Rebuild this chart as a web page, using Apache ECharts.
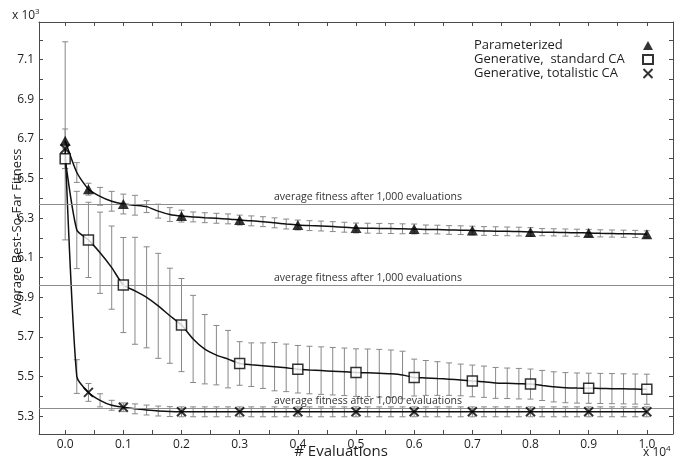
<!DOCTYPE html>
<html>
<head>
<meta charset="utf-8">
<script src="https://cdn.jsdelivr.net/npm/echarts@6/dist/echarts.min.js"></script>
<style>
  html, body { margin: 0; padding: 0; background: #fff; }
  #chart { width: 686px; height: 460px; }
</style>
</head>
<body>
<div id="chart"></div>
<script>
// # evaluations, in units of 10^4 (one point every 200 evaluations)
var evals = [0.00, 0.02, 0.04, 0.06, 0.08, 0.10, 0.12, 0.14, 0.16, 0.18,
  0.20, 0.22, 0.24, 0.26, 0.28, 0.30, 0.32, 0.34, 0.36, 0.38,
  0.40, 0.42, 0.44, 0.46, 0.48, 0.50, 0.52, 0.54, 0.56, 0.58,
  0.60, 0.62, 0.64, 0.66, 0.68, 0.70, 0.72, 0.74, 0.76, 0.78,
  0.80, 0.82, 0.84, 0.86, 0.88, 0.90, 0.92, 0.94, 0.96, 0.98, 1.00];

// average best-so-far fitness (x 10^3) and error half widths
var paramMean = [6.69, 6.53, 6.446, 6.41, 6.385, 6.371, 6.365, 6.358, 6.335, 6.318,
  6.31, 6.306, 6.302, 6.299, 6.296, 6.29, 6.286, 6.282, 6.276, 6.27,
  6.265, 6.262, 6.26, 6.257, 6.254, 6.25, 6.249, 6.248, 6.247, 6.246,
  6.245, 6.243, 6.242, 6.24, 6.239, 6.237, 6.235, 6.234, 6.233, 6.232,
  6.23, 6.229, 6.228, 6.227, 6.226, 6.225, 6.223, 6.222, 6.221, 6.22, 6.218];
var paramErr = [0.5, 0.05, 0.03, 0.045, 0.05, 0.05, 0.05, 0.03, 0.035, 0.035,
  0.03, 0.025, 0.025, 0.025, 0.025, 0.025, 0.025, 0.025, 0.025, 0.025,
  0.025, 0.025, 0.025, 0.025, 0.025, 0.025, 0.025, 0.025, 0.025, 0.025,
  0.025, 0.022, 0.022, 0.022, 0.022, 0.022, 0.022, 0.022, 0.022, 0.022,
  0.022, 0.018, 0.018, 0.018, 0.018, 0.018, 0.018, 0.018, 0.018, 0.018, 0.018];

var stdMean = [6.60, 6.24, 6.19, 6.125, 6.05, 5.962, 5.933, 5.90, 5.857, 5.807,
  5.76, 5.69, 5.638, 5.608, 5.588, 5.566, 5.56, 5.555, 5.55, 5.544,
  5.537, 5.533, 5.53, 5.527, 5.524, 5.52, 5.519, 5.517, 5.514, 5.508,
  5.495, 5.493, 5.49, 5.487, 5.483, 5.478, 5.474, 5.468, 5.466, 5.464,
  5.462, 5.455, 5.448, 5.444, 5.442, 5.441, 5.44, 5.439, 5.438, 5.437, 5.436];
var stdErr = [0.05, 0.195, 0.19, 0.205, 0.21, 0.24, 0.27, 0.255, 0.265, 0.24,
  0.235, 0.22, 0.175, 0.15, 0.145, 0.11, 0.11, 0.115, 0.122, 0.12,
  0.12, 0.12, 0.12, 0.12, 0.12, 0.12, 0.12, 0.12, 0.12, 0.12,
  0.093, 0.088, 0.085, 0.082, 0.08, 0.08, 0.079, 0.078, 0.077, 0.077,
  0.076, 0.076, 0.076, 0.076, 0.076, 0.076, 0.076, 0.076, 0.076, 0.076, 0.076];

var totMean = [6.65, 5.50, 5.42, 5.38, 5.355, 5.345, 5.337, 5.331, 5.326, 5.323,
  5.322, 5.322, 5.322, 5.322, 5.322, 5.322, 5.322, 5.322, 5.322, 5.322,
  5.322, 5.322, 5.322, 5.322, 5.322, 5.322, 5.322, 5.322, 5.322, 5.322,
  5.322, 5.322, 5.322, 5.322, 5.322, 5.322, 5.322, 5.322, 5.322, 5.322,
  5.322, 5.322, 5.322, 5.322, 5.322, 5.322, 5.322, 5.322, 5.322, 5.322, 5.322];
var totErr = [0.1, 0.085, 0.045, 0.033, 0.025, 0.022, 0.025, 0.025, 0.025, 0.025,
  0.025, 0.025, 0.025, 0.025, 0.025, 0.025, 0.025, 0.025, 0.025, 0.025,
  0.025, 0.025, 0.025, 0.025, 0.025, 0.025, 0.025, 0.025, 0.025, 0.025,
  0.025, 0.025, 0.025, 0.025, 0.025, 0.025, 0.025, 0.025, 0.025, 0.025,
  0.025, 0.025, 0.025, 0.025, 0.025, 0.025, 0.025, 0.025, 0.025, 0.025, 0.025];

// points that carry a marker
var markerIdx = [0, 2, 5, 10, 15, 20, 25, 30, 35, 40, 45, 50];
var refIdx = 5; // 0.1 x 10^4 = 1,000 evaluations

var xTicks = [0, 0.05, 0.1, 0.15, 0.2, 0.25, 0.3, 0.35, 0.4, 0.45, 0.5, 0.55, 0.6, 0.65, 0.7, 0.75, 0.8, 0.85, 0.9, 0.95, 1.0];
var xLabels = [0, 0.1, 0.2, 0.3, 0.4, 0.5, 0.6, 0.7, 0.8, 0.9, 1.0];
var yTicks = [5.3, 5.4, 5.5, 5.6, 5.7, 5.8, 5.9, 6.0, 6.1, 6.2, 6.3, 6.4, 6.5, 6.6, 6.7, 6.8, 6.9, 7.0, 7.1, 7.2];
var yLabels = [5.3, 5.5, 5.7, 5.9, 6.1, 6.3, 6.5, 6.7, 6.9, 7.1];

var names = ['Parameterized', 'Generative,  standard CA', 'Generative, totalistic CA'];
var refText = 'average fitness after 1,000 evaluations';

var font = 'Open Sans';
var ink = '#1e1e1e';
var frame = '#4a4a4a';

function pairs(mean) {
  return evals.map(function (x, i) { return [x, mean[i]]; });
}
function bars(mean, err) {
  return evals.map(function (x, i) { return [x, mean[i] - err[i], mean[i] + err[i]]; });
}
function marks(mean) {
  return markerIdx.map(function (i) { return [evals[i], mean[i]]; });
}

function renderBar(params, api) {
  var x = api.value(0);
  var lo = api.coord([x, api.value(1)]);
  var hi = api.coord([x, api.value(2)]);
  var w = 3;
  var st = { stroke: '#888', lineWidth: 1 };
  return {
    type: 'group',
    children: [
      { type: 'line', shape: { x1: lo[0], y1: lo[1], x2: hi[0], y2: hi[1] }, style: st },
      { type: 'line', shape: { x1: lo[0] - w, y1: lo[1], x2: lo[0] + w, y2: lo[1] }, style: st },
      { type: 'line', shape: { x1: hi[0] - w, y1: hi[1], x2: hi[0] + w, y2: hi[1] }, style: st }
    ]
  };
}

function barSeries(mean, err) {
  return {
    type: 'custom', silent: true, z: 1,
    data: bars(mean, err),
    encode: { x: 0, y: [1, 2] },
    renderItem: renderBar
  };
}

function lineSeries(mean) {
  return {
    type: 'line', silent: true, z: 3,
    data: pairs(mean),
    showSymbol: false, symbol: 'none',
    smooth: 0.2,
    lineStyle: { color: '#111', width: 1.5 },
    markLine: {
      silent: true, symbol: 'none',
      lineStyle: { color: '#8c8c8c', width: 1.2, type: 'solid' },
      label: { position: 'insideMiddleTop', formatter: refText, color: '#333', fontSize: 10.5, fontFamily: font,
        distance: 2, padding: [0, 0, 0, 24] },
      data: [{ yAxis: mean[refIdx] }]
    }
  };
}

var chart = echarts.init(document.getElementById('chart'));

var xBase = {
  type: 'value', min: -0.045, max: 1.045,
  axisLine: { show: true, onZero: false, lineStyle: { color: frame, width: 1 } },
  axisTick: { show: true, inside: true, length: 4, customValues: xTicks, lineStyle: { color: frame } },
  splitLine: { show: false }
};
var yBase = {
  type: 'value', min: 5.21, max: 7.29,
  axisLine: { show: true, onZero: false, lineStyle: { color: frame, width: 1 } },
  axisTick: { show: true, inside: true, length: 4, customValues: yTicks, lineStyle: { color: frame } },
  splitLine: { show: false }
};

chart.setOption({
  animation: false,
  backgroundColor: '#fff',
  grid: { left: 39, right: 13, top: 22, bottom: 26 },
  xAxis: [
    Object.assign({}, xBase, {
      position: 'bottom',
      axisLabel: { customValues: xLabels, margin: 5, color: ink, fontFamily: font, fontSize: 12,
        formatter: function (v) { return v.toFixed(1); } }
    }),
    Object.assign({}, xBase, { position: 'top', axisLabel: { show: false } })
  ],
  yAxis: [
    Object.assign({}, yBase, {
      position: 'left',
      axisLabel: { customValues: yLabels, margin: 5, color: ink, fontFamily: font, fontSize: 12,
        formatter: function (v) { return v.toFixed(1); } }
    }),
    Object.assign({}, yBase, { position: 'right', axisLabel: { show: false } })
  ],
  legend: {
    orient: 'vertical', left: 469, top: 34, align: 'right',
    itemGap: 1, itemWidth: 10, itemHeight: 9, selectedMode: false,
    formatter: function (n) { return '{t|' + n + '}'; },
    textStyle: { fontFamily: font, fontSize: 13, color: ink,
      rich: { t: { width: 164, align: 'left', fontFamily: font, fontSize: 13, color: ink, lineHeight: 15 } } },
    data: names
  },
  graphic: [
    { type: 'text', x: 17, y: 232, rotation: Math.PI / 2,
      style: { text: 'Average Best-So-Far Fitness', fontFamily: font, fontSize: 13, fill: ink, align: 'center', verticalAlign: 'middle' } },
    { type: 'text', x: 341, y: 452,
      style: { text: '# Evaluations', fontFamily: font, fontSize: 15, fill: ink, align: 'center', verticalAlign: 'middle' } },
    { type: 'text', x: 12, y: 8,
      style: { text: '{a|x 10}{s|3}', fontFamily: font, fill: ink,
        rich: { a: { fontSize: 12, fontFamily: font, fill: ink, lineHeight: 14, verticalAlign: 'bottom' },
                s: { fontSize: 8, fontFamily: font, fill: ink, verticalAlign: 'top', lineHeight: 14 } } } },
    { type: 'text', x: 643, y: 445,
      style: { text: '{a|x 10}{s|4}', fontFamily: font, fill: ink,
        rich: { a: { fontSize: 12, fontFamily: font, fill: ink, lineHeight: 14, verticalAlign: 'bottom' },
                s: { fontSize: 8, fontFamily: font, fill: ink, verticalAlign: 'top', lineHeight: 14 } } } }
  ],
  series: [
    barSeries(paramMean, paramErr),
    barSeries(stdMean, stdErr),
    barSeries(totMean, totErr),
    lineSeries(paramMean),
    lineSeries(stdMean),
    lineSeries(totMean),
    { name: names[0], type: 'scatter', z: 5, silent: true, data: marks(paramMean),
      symbol: 'triangle', symbolSize: [11, 10], itemStyle: { color: '#000' } },
    { name: names[1], type: 'scatter', z: 5, silent: true, data: marks(stdMean),
      symbol: 'rect', symbolSize: 10, itemStyle: { color: '#fff', borderColor: '#000', borderWidth: 1.5 } },
    { name: names[2], type: 'scatter', z: 6, silent: true, data: marks(totMean),
      symbol: 'path://M0,0L10,10M10,0L0,10', symbolSize: 9,
      itemStyle: { color: 'rgba(0,0,0,0)', borderColor: '#000', borderWidth: 2 } }
  ]
});
</script>
</body>
</html>
